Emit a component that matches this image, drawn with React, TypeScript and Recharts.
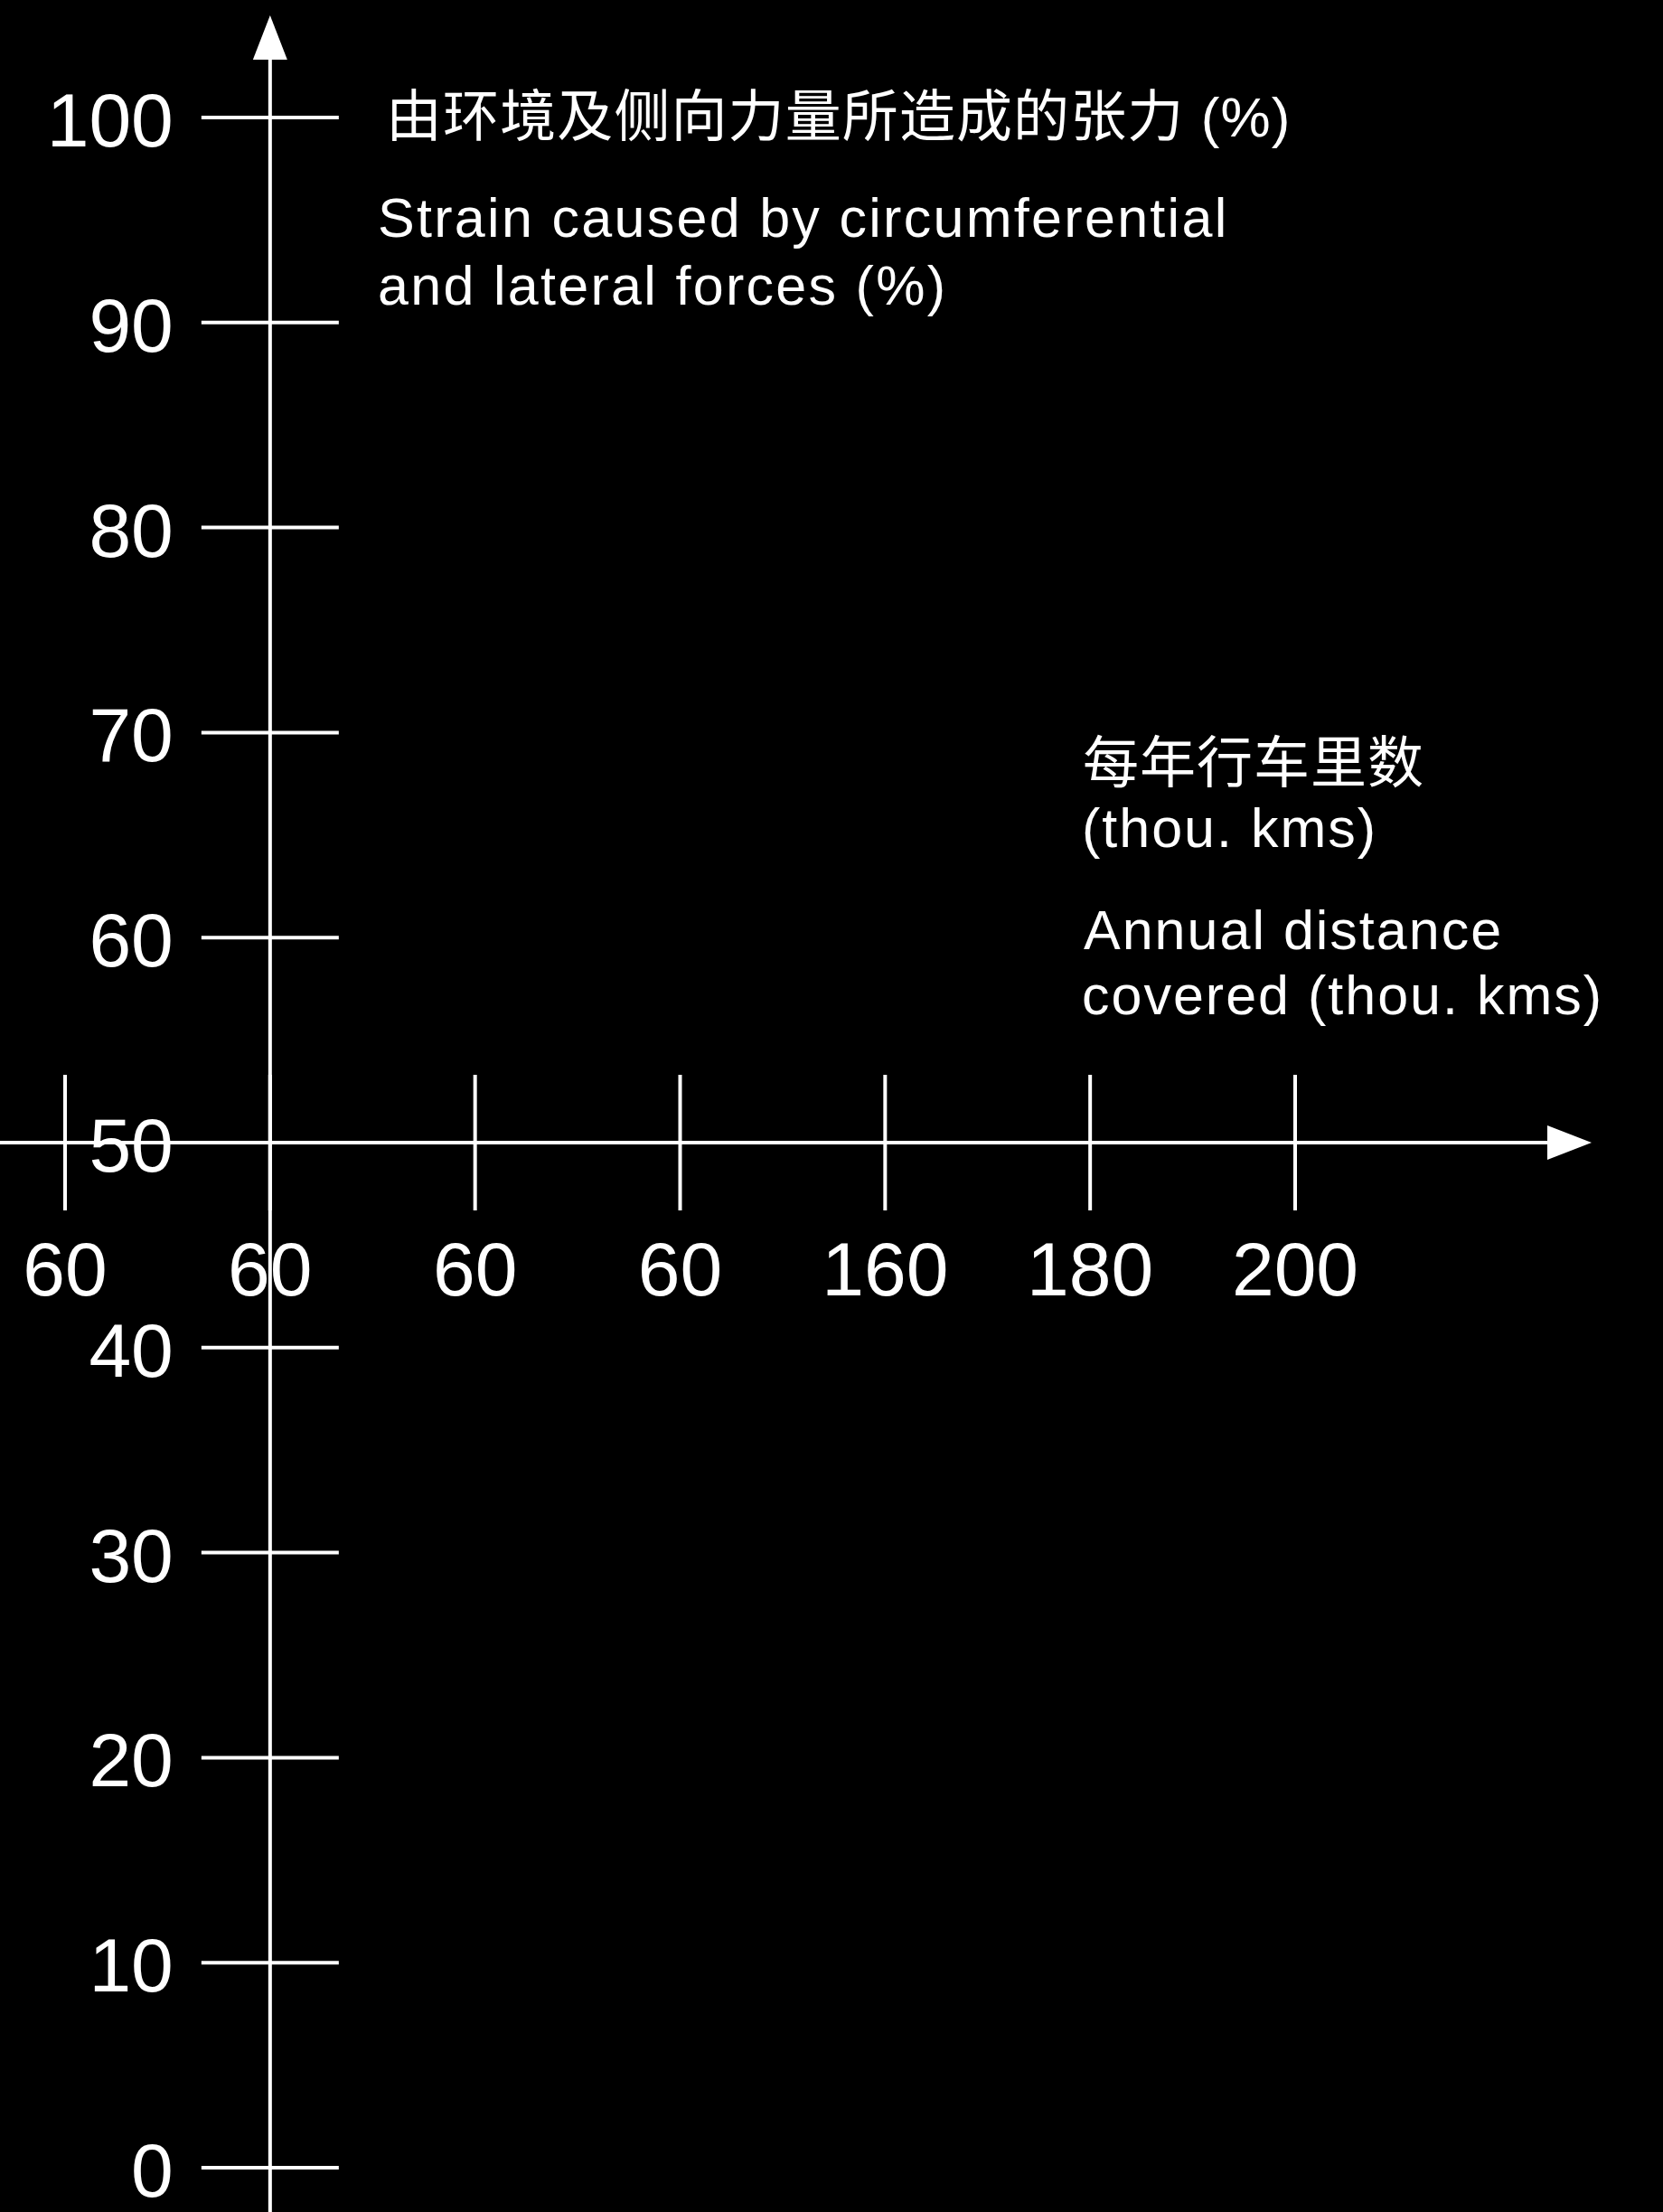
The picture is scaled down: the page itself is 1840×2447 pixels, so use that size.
import { ComposedChart, XAxis, YAxis, ReferenceLine, Customized } from "recharts";

// tick labels exactly as printed on the chart
const xTickLabels = ["60", "60", "60", "60", "160", "180", "200"];
const yTickValues = [0, 10, 20, 30, 40, 50, 60, 70, 80, 90, 100];

const xTickIndex = xTickLabels.map((_, i) => i);
const rows = xTickLabels.map((label, i) => ({ idx: i, label }));

const X_CROSS = 1; // y axis sits on the second x tick
const Y_CROSS = 50; // x axis sits at 50 %

const WIDTH = 1840;
const HEIGHT = 2447;
const MARGIN = { top: 130, right: 407, bottom: 19, left: 12 };
const Y_AXIS_W = 60;
const X_AXIS_H = 30;

const PLOT_LEFT = MARGIN.left + Y_AXIS_W;
const PLOT_W = WIDTH - PLOT_LEFT - MARGIN.right;
const PLOT_H = HEIGHT - MARGIN.top - MARGIN.bottom - X_AXIS_H;

const X_MAX = xTickLabels.length - 1;
const crossX = PLOT_LEFT + (X_CROSS / X_MAX) * PLOT_W;
const crossY = MARGIN.top + ((100 - Y_CROSS) / 100) * PLOT_H;

const WHITE = "#ffffff";
const LATIN = "'Liberation Sans', Arial, Helvetica, sans-serif";
const MIXED = "'Liberation Sans', 'Noto Sans CJK SC', sans-serif";

const XTick = ({ x, payload }: any) => (
  <g>
    <line x1={x} x2={x} y1={crossY - 75} y2={crossY + 75} stroke={WHITE} strokeWidth={4} />
    <text x={x} y={crossY + 169} textAnchor="middle" fill={WHITE} fontSize={84} fontFamily={LATIN}>
      {xTickLabels[payload.value]}
    </text>
  </g>
);

const YTick = ({ y, payload }: any) => (
  <g>
    <line x1={crossX - 76} x2={crossX + 76} y1={y} y2={y} stroke={WHITE} strokeWidth={4} />
    <text x={crossX - 107} y={y + 32} textAnchor="end" fill={WHITE} fontSize={84} fontFamily={LATIN}>
      {payload.value}
    </text>
  </g>
);

// y axis: runs from the arrow down past the bottom of the plot
const VerticalAxis = ({ x1, y1, y2 }: any) => {
  const top = Math.min(y1, y2);
  return (
    <g>
      <line x1={x1} x2={x1} y1={top - 66} y2={HEIGHT} stroke={WHITE} strokeWidth={4} />
      <polygon points={`${x1},${top - 113} ${x1 - 19},${top - 64} ${x1 + 19},${top - 64}`} fill={WHITE} />
    </g>
  );
};

// x axis: from the left edge to the arrow on the right
const HorizontalAxis = ({ x1, x2, y1 }: any) => {
  const right = Math.max(x1, x2);
  return (
    <g>
      <line x1={0} x2={right + 281} y1={y1} y2={y1} stroke={WHITE} strokeWidth={4} />
      <polygon points={`${right + 328},${y1} ${right + 279},${y1 - 19} ${right + 279},${y1 + 19}`} fill={WHITE} />
    </g>
  );
};

const Titles = () => (
  <g fill={WHITE}>
    <text x={427} y={151} fontSize={62} fontFamily={MIXED} letterSpacing={1.1}>
      由环境及侧向力量所造成的张力 (%)
    </text>
    <text x={418} y={262} fontSize={61} fontFamily={LATIN} letterSpacing={2.3}>
      Strain caused by circumferential
    </text>
    <text x={418} y={337} fontSize={61} fontFamily={LATIN} letterSpacing={2.3}>
      and lateral forces (%)
    </text>
    <text x={1198} y={866} fontSize={62} fontFamily={MIXED} letterSpacing={1}>
      每年行车里数
    </text>
    <text x={1197} y={937} fontSize={61} fontFamily={LATIN} letterSpacing={2}>
      (thou. kms)
    </text>
    <text x={1199} y={1050} fontSize={61} fontFamily={LATIN} letterSpacing={2}>
      Annual distance
    </text>
    <text x={1197} y={1122} fontSize={61} fontFamily={LATIN} letterSpacing={2}>
      covered (thou. kms)
    </text>
  </g>
);

export default function App() {
  return (
    <div style={{ position: "absolute", left: 0, top: 0, width: WIDTH, height: HEIGHT, background: "#000" }}>
      <style>{"body{margin:0;background:#000;}"}</style>
      <ComposedChart width={WIDTH} height={HEIGHT} data={rows} margin={MARGIN}>
        <XAxis
          dataKey="idx"
          type="number"
          domain={[0, X_MAX]}
          ticks={xTickIndex}
          interval={0}
          height={X_AXIS_H}
          axisLine={false}
          tickLine={false}
          tick={<XTick />}
          allowDataOverflow
        />
        <YAxis
          type="number"
          domain={[0, 100]}
          ticks={yTickValues}
          interval={0}
          width={Y_AXIS_W}
          axisLine={false}
          tickLine={false}
          tick={<YTick />}
          allowDataOverflow
        />
        <ReferenceLine x={X_CROSS} shape={<VerticalAxis />} ifOverflow="visible" />
        <ReferenceLine y={Y_CROSS} shape={<HorizontalAxis />} ifOverflow="visible" />
        <Customized component={<Titles />} />
      </ComposedChart>
    </div>
  );
}
